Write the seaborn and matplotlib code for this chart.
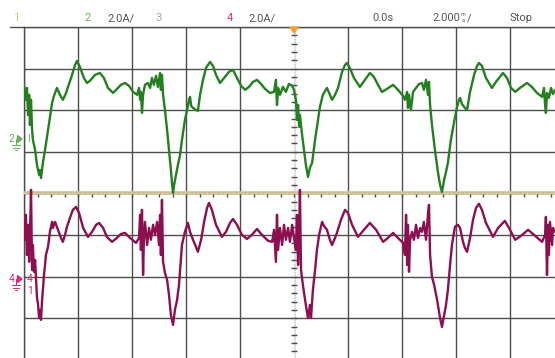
import numpy as np
import pandas as pd
import matplotlib
matplotlib.use("Agg")
import matplotlib.pyplot as plt
from matplotlib.lines import Line2D
from matplotlib.patches import Polygon
import seaborn as sns

# ---- captured waveforms: time in ms, current in A ----
ch2_time = [-10.00, -9.93, -9.89, -9.85, -9.81, -9.78, -9.74, -9.70, -9.67, -9.59,
            -9.52, -9.44, -9.41, -9.37, -9.30, -9.22, -9.11, -9.04, -8.96, -8.89,
            -8.78, -8.67, -8.56, -8.44, -8.37, -8.22, -8.11, -8.04, -7.93, -7.78,
            -7.67, -7.56, -7.37, -7.19, -7.04, -6.89, -6.70, -6.56, -6.41, -6.26,
            -6.11, -5.96, -5.81, -5.74, -5.70, -5.67, -5.63, -5.59, -5.52, -5.41,
            -5.33, -5.26, -5.19, -5.11, -5.04, -4.96, -4.93, -4.89, -4.85, -4.78,
            -4.70, -4.63, -4.56, -4.52, -4.48, -4.44, -4.37, -4.30, -4.22, -4.15,
            -4.04, -3.96, -3.89, -3.85, -3.81, -3.74, -3.63, -3.56, -3.48, -3.37,
            -3.26, -3.11, -3.00, -2.89, -2.74, -2.59, -2.41, -2.26, -2.11, -1.96,
            -1.81, -1.67, -1.52, -1.37, -1.22, -1.07, -0.89, -0.74, -0.67, -0.63,
            -0.59, -0.52, -0.41, -0.30, -0.19, -0.07, 0.00, 0.07, 0.11, 0.15,
            0.19, 0.22, 0.30, 0.37, 0.44, 0.52, 0.59, 0.67, 0.78, 0.89,
            0.96, 1.07, 1.22, 1.33, 1.41, 1.52, 1.63, 1.78, 1.89, 1.96,
            2.07, 2.22, 2.44, 2.63, 2.81, 2.96, 3.11, 3.26, 3.44, 3.67,
            3.85, 4.04, 4.11, 4.19, 4.22, 4.26, 4.33, 4.41, 4.52, 4.63,
            4.74, 4.81, 4.89, 4.96, 5.00, 5.04, 5.11, 5.22, 5.33, 5.41,
            5.48, 5.56, 5.63, 5.70, 5.81, 5.93, 6.04, 6.11, 6.15, 6.22,
            6.33, 6.41, 6.52, 6.67, 6.78, 6.85, 6.96, 7.11, 7.33, 7.48,
            7.74, 7.89, 8.04, 8.19, 8.37, 8.63, 8.81, 9.00, 9.19, 9.26,
            9.30, 9.33, 9.37, 9.44, 9.52, 9.59, 9.67]
ch2_current = [2.60, 1.88, 2.45, 1.15, 2.12, 0.67, 1.88, 0.43, -0.05, -0.53,
               -1.25, -1.73, -1.49, -1.88, -1.15, -0.53, 0.43, 1.06, 1.73, 2.07,
               2.45, 2.12, 1.88, 2.21, 2.50, 3.08, 3.56, 3.75, 3.46, 2.93,
               2.69, 2.79, 3.08, 3.17, 2.93, 2.45, 2.21, 2.40, 2.60, 2.69,
               2.55, 2.26, 2.12, 2.45, 1.88, 2.26, 1.25, 2.12, 2.60, 2.69,
               2.45, 2.93, 2.60, 3.03, 2.50, 3.17, 2.36, 3.08, 2.12, 1.39,
               0.43, -0.53, -1.49, -2.12, -2.60, -2.21, -1.73, -1.25, -0.77, -0.05,
               0.91, 1.39, 1.88, 2.02, 1.59, 1.49, 1.39, 1.35, 2.12, 2.84,
               3.41, 3.70, 3.51, 3.08, 2.69, 2.93, 3.22, 3.32, 2.93, 2.55,
               2.36, 2.50, 2.74, 2.84, 2.64, 2.40, 2.21, 2.26, 2.84, 1.63,
               2.45, 2.12, 2.50, 2.26, 2.64, 2.55, 2.36, 1.88, 0.91, 1.63,
               0.58, 1.15, 0.19, -0.53, -1.25, -1.83, -1.39, -1.15, -0.05, 0.91,
               1.54, 2.12, 2.45, 2.12, 1.88, 2.12, 2.45, 3.22, 3.56, 3.65,
               3.41, 2.93, 2.50, 2.84, 3.17, 2.98, 2.60, 2.26, 2.40, 2.60,
               2.36, 2.07, 1.88, 2.26, 1.49, 2.12, 1.39, 2.26, 2.45, 2.64,
               2.69, 2.36, 2.84, 2.12, 2.74, 1.63, 0.67, -0.53, -1.59, -2.21,
               -2.55, -1.97, -1.59, -1.15, -0.05, 0.82, 1.54, 1.88, 1.97, 1.68,
               1.49, 1.39, 2.26, 3.08, 3.51, 3.65, 3.51, 2.93, 2.45, 2.74,
               3.17, 2.93, 2.45, 2.26, 2.45, 2.69, 2.50, 2.21, 2.02, 2.45,
               1.63, 1.25, 2.21, 1.97, 2.45, 2.16, 2.36]

ch4_time = [-10.00, -9.96, -9.93, -9.89, -9.85, -9.81, -9.78, -9.74, -9.70, -9.67,
            -9.63, -9.59, -9.52, -9.48, -9.44, -9.41, -9.37, -9.33, -9.30, -9.26,
            -9.22, -9.19, -9.11, -9.04, -8.96, -8.93, -8.85, -8.74, -8.63, -8.56,
            -8.48, -8.41, -8.30, -8.19, -8.07, -7.96, -7.81, -7.63, -7.48, -7.33,
            -7.22, -7.07, -6.93, -6.74, -6.56, -6.41, -6.26, -6.07, -5.85, -5.74,
            -5.70, -5.67, -5.63, -5.59, -5.56, -5.52, -5.44, -5.37, -5.30, -5.22,
            -5.15, -5.07, -5.00, -4.96, -4.93, -4.89, -4.85, -4.78, -4.70, -4.63,
            -4.56, -4.48, -4.41, -4.33, -4.26, -4.22, -4.15, -4.04, -3.93, -3.85,
            -3.74, -3.63, -3.56, -3.44, -3.33, -3.22, -3.15, -3.04, -2.89, -2.67,
            -2.52, -2.37, -2.26, -2.11, -1.93, -1.74, -1.56, -1.37, -1.19, -0.96,
            -0.81, -0.74, -0.67, -0.63, -0.59, -0.52, -0.44, -0.37, -0.30, -0.22,
            -0.15, -0.07, 0.00, 0.07, 0.11, 0.15, 0.19, 0.22, 0.26, 0.33,
            0.41, 0.48, 0.52, 0.59, 0.63, 0.70, 0.78, 0.85, 0.93, 1.04,
            1.11, 1.22, 1.33, 1.41, 1.52, 1.59, 1.74, 1.89, 2.00, 2.15,
            2.37, 2.59, 2.81, 3.04, 3.30, 3.48, 3.67, 3.85, 4.04, 4.11,
            4.15, 4.19, 4.22, 4.26, 4.30, 4.37, 4.44, 4.52, 4.59, 4.67,
            4.74, 4.81, 4.89, 4.96, 5.00, 5.04, 5.11, 5.19, 5.30, 5.41,
            5.48, 5.56, 5.63, 5.70, 5.78, 5.85, 5.96, 6.07, 6.15, 6.26,
            6.33, 6.41, 6.52, 6.63, 6.74, 6.85, 6.96, 7.11, 7.37, 7.56,
            7.81, 8.00, 8.19, 8.41, 8.67, 8.93, 9.19, 9.30, 9.33, 9.37,
            9.41, 9.44, 9.48, 9.56, 9.59, 9.67]
ch4_current = [2.69, 1.88, 3.08, 1.15, 2.60, 0.82, 2.12, 4.28, 0.43, 1.63,
               0.34, 0.91, -0.87, -1.25, -1.88, -1.49, -1.97, -1.01, -0.53, 0.19,
               0.67, 1.15, 1.54, 2.26, 2.74, 2.45, 2.74, 2.36, 1.97, 1.78,
               2.12, 2.50, 2.93, 3.32, 3.46, 3.17, 2.45, 2.02, 2.26, 2.60,
               2.69, 2.45, 2.02, 1.78, 1.97, 2.16, 2.21, 1.97, 1.73, 1.97,
               3.08, 1.39, 3.32, 0.19, 1.88, 2.74, 1.63, 2.45, 1.88, 2.60,
               2.12, 2.74, 1.63, 3.08, 1.15, 3.80, 0.82, 0.29, -0.05, -0.77,
               -1.73, -2.21, -1.49, -1.01, -0.29, 0.43, 1.63, 2.26, 2.69, 2.26,
               1.88, 1.54, 1.30, 1.88, 2.74, 3.41, 3.65, 3.32, 2.60, 2.02,
               2.26, 2.69, 2.88, 2.60, 2.12, 1.92, 2.12, 2.40, 2.12, 1.83,
               1.78, 2.36, 0.82, 3.08, 1.39, 2.45, 1.63, 2.60, 1.88, 2.45,
               1.78, 2.60, 1.97, 1.39, 3.08, 0.67, 2.12, 4.28, 0.43, -0.29,
               -1.01, -1.59, -1.88, -1.25, -1.88, -0.53, 0.43, 1.39, 2.12, 2.74,
               2.55, 2.36, 1.88, 1.63, 1.97, 2.21, 2.84, 3.32, 3.17, 2.60,
               2.02, 2.36, 2.69, 2.36, 1.78, 1.97, 2.21, 1.97, 1.73, 1.15,
               3.08, 0.67, 2.60, 0.34, 1.88, 2.26, 1.88, 2.60, 1.97, 2.45,
               2.26, 2.74, 1.88, 3.08, 3.56, 1.15, 0.10, -0.29, -1.01, -1.88,
               -2.31, -1.73, -1.25, -0.53, 0.67, 1.63, 2.50, 2.60, 2.45, 1.78,
               1.49, 1.30, 1.97, 2.84, 3.41, 3.61, 3.32, 2.69, 2.02, 2.45,
               2.79, 2.36, 1.88, 2.07, 2.36, 2.07, 1.78, 2.12, 2.98, 0.19,
               2.60, 1.15, 2.74, 1.63, 2.45, 2.26]

# ---- scope settings ----
AMPS_PER_DIV = 2.0          # both current channels
MS_PER_DIV = 2.0
H_DIVS, V_DIVS = 10, 8
ch2_ref_div = 1.31          # ground marker position, divisions above centre
ch4_ref_div = -2.055

GRID = "#4d4d4d"
GREEN = "#237f1f"
MAGENTA = "#8c1050"
TEXT = "#555555"

sns.set_style("white")
plt.rcParams["font.family"] = ["Roboto", "DejaVu Sans"]

W, H = 555, 358
fig = plt.figure(figsize=(W / 100, H / 100), dpi=100)
fig.patch.set_facecolor("white")


def fx(px):
    return px / W


def fy(py):
    return 1 - py / H


# graticule: 10 x 8 divisions, left edge at x=24 px, top at y=27 px
x0, y0 = 24, 27
div_w, div_h = 54.0, 41.6
ax = fig.add_axes([fx(x0), fy(y0 + V_DIVS * div_h), H_DIVS * div_w / W, V_DIVS * div_h / H])
half_t = H_DIVS * MS_PER_DIV / 2
ax.set_xlim(-half_t, half_t)
ax.set_ylim(-V_DIVS / 2, V_DIVS / 2)
ax.set_xticks(np.arange(-half_t, half_t + 0.1, MS_PER_DIV))
ax.set_yticks(np.arange(-V_DIVS / 2, V_DIVS / 2 + 0.1, 1))
ax.tick_params(length=0, labelbottom=False, labelleft=False)
ax.grid(True, color=GRID, linewidth=1.0)
for s in ax.spines.values():
    s.set_color(GRID)
    s.set_linewidth(1.0)

# centre vertical: light dotted line with minor ticks
ax.axvline(0, color="white", linewidth=1.6, zorder=2)
ax.axvline(0, color="#bdbdbd", linewidth=0.8, linestyle=(0, (1, 1.5)), zorder=2)
minor_v = np.arange(-V_DIVS / 2, V_DIVS / 2 + 0.01, 0.2)
ax.hlines(minor_v, -0.1, 0.1, color=GRID, linewidth=1.0, zorder=3)

# channel 1 (idle) trace along the centre, with minor ticks under it
ax.axhline(0, color="#cbbd94", linewidth=2.6, zorder=3)
ax.axhline(0, color="#e8dfc4", linewidth=0.8, linestyle=(0, (1, 3)), zorder=3)
minor_h = np.arange(-half_t, half_t + 0.01, MS_PER_DIV / 4)
ax.vlines(minor_h, -0.09, -0.02, color=GRID, linewidth=1.0, zorder=4)


def channel_axis(ref_div):
    a = ax.twinx()
    a.set_ylim((-V_DIVS / 2 - ref_div) * AMPS_PER_DIV,
               (V_DIVS / 2 - ref_div) * AMPS_PER_DIV)
    a.set_axis_off()
    return a


ax2 = channel_axis(ch2_ref_div)
ax4 = channel_axis(ch4_ref_div)

df2 = pd.DataFrame({"t": ch2_time, "i": ch2_current})
df4 = pd.DataFrame({"t": ch4_time, "i": ch4_current})
sns.lineplot(data=df2, x="t", y="i", ax=ax2, color=GREEN, linewidth=1.7,
             estimator=None, sort=False, errorbar=None)
sns.lineplot(data=df4, x="t", y="i", ax=ax4, color=MAGENTA, linewidth=1.7,
             estimator=None, sort=False, errorbar=None)
for a in (ax2, ax4):
    a.set_xlim(-half_t, half_t)
    for ln in a.get_lines():
        ln.set_solid_joinstyle("round")

# header rule and trigger marker
fig.add_artist(Line2D([fx(10), fx(x0)], [fy(y0), fy(y0)], color=GRID, linewidth=1.0))
fig.add_artist(Polygon([[fx(290), fy(27)], [fx(298), fy(27)], [fx(294), fy(33)]],
                       closed=True, color="#f5a02a"))

# status line
ty = fy(18)
hdr = dict(fontsize=8, va="center", ha="left")
fig.text(fx(13), ty, "1", color="#e6c07a", **hdr)
fig.text(fx(84), ty, "2", color="#6aae5c", **hdr)
fig.text(fx(107), ty, "2.0A/", color=TEXT, **hdr)
fig.text(fx(155), ty, "3", color="#9aa8c8", **hdr)
fig.text(fx(227), ty, "4", color="#c8367e", **hdr)
fig.text(fx(248), ty, "2.0A/", color=TEXT, **hdr)
fig.text(fx(372), ty, "0.0s", color=TEXT, **hdr)
fig.text(fx(432), ty, "2.000", color=TEXT, **hdr)
fig.text(fx(461), fy(14.5), "m", color=TEXT, fontsize=4, va="center", ha="left")
fig.text(fx(462), fy(20.5), "s", color=TEXT, fontsize=4.5, va="center", ha="left")
fig.text(fx(467), ty, "/", color=TEXT, **hdr)
fig.text(fx(510), ty, "Stop", color=TEXT, **hdr)


def ground_marker(label, py, color, side_text):
    fig.text(fx(9), fy(py), label, color=color, fontsize=7.5, va="center", ha="left")
    fig.add_artist(Polygon([[fx(17.5), fy(py - 3.5)], [fx(17.5), fy(py + 3.5)],
                            [fx(22), fy(py)]], closed=True, color=color))
    fig.add_artist(Line2D([fx(16), fx(16)], [fy(py), fy(py + 6)], color=color, linewidth=0.8))
    for dy, hw in ((6, 4), (8.5, 2.7), (11, 1.4)):
        fig.add_artist(Line2D([fx(16 - hw), fx(16 + hw)], [fy(py + dy), fy(py + dy)],
                              color=color, linewidth=0.8))
    for txt, dx, dy in side_text:
        fig.text(fx(27 + dx), fy(py + dy), txt, color=color, fontsize=7.5,
                 va="center", ha="left")


ground_marker("2", 139, "#6aae5c", [("I", 0, 0)])
ground_marker("4", 279, "#d0307a", [("4", 0, 0), ("1", 0.5, 12)])

fig.savefig("out.png", dpi=100, facecolor="white")
